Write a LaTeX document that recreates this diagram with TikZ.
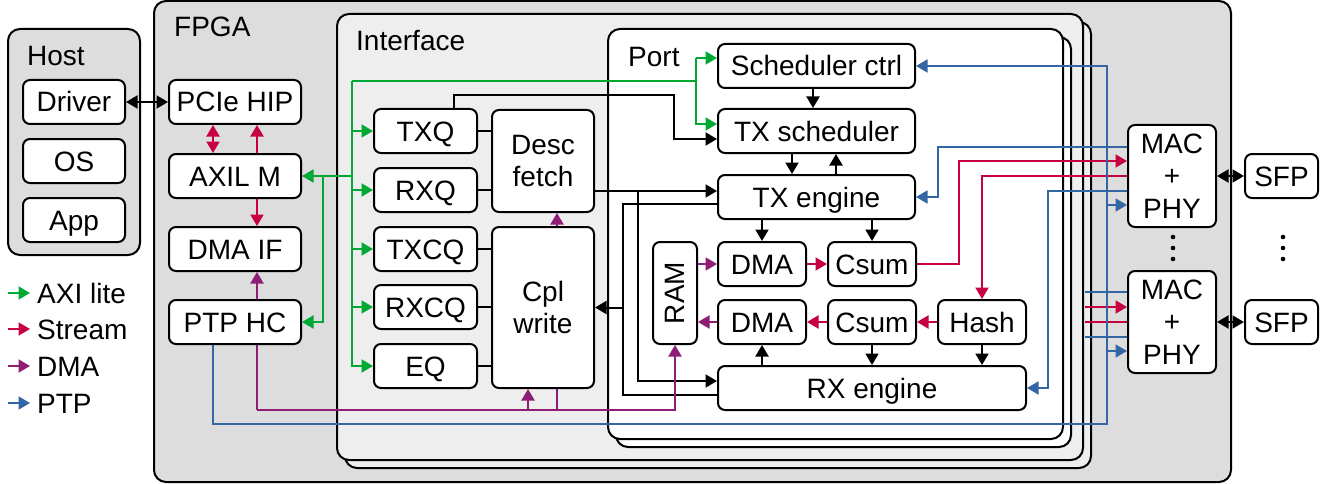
\documentclass[tikz,border=0pt]{standalone}
\usepackage{fontspec}
\setmainfont{Liberation Sans}
\usetikzlibrary{arrows.meta}
\definecolor{axigreen}{HTML}{00A933}
\definecolor{streamred}{HTML}{C70042}
\definecolor{dmapurple}{HTML}{8D1D75}
\definecolor{ptpblue}{HTML}{3465A4}
\definecolor{outergray}{HTML}{DDDDDD}
\definecolor{innergray}{HTML}{EEEEEE}
\pgfdeclarelayer{frames}
\pgfdeclarelayer{wires}
\pgfsetlayers{frames,wires,main}
\tikzset{
  blk/.style={draw, line width=2pt, rounded corners=7pt, fill=white, inner sep=0pt,
    minimum height=44pt, text height=20pt, text depth=0pt},
  mblk/.style={draw, line width=2pt, rounded corners=7pt, fill=white, inner sep=0pt, align=center},
  container/.style={draw, line width=2pt, rounded corners=12pt},
  lbl/.style={anchor=west, inner sep=0pt, text height=20pt, text depth=0pt},
  wire/.style={line width=2pt},
  arr/.style={-{Triangle[length=11.5pt,width=13pt]}},
  dbl/.style={{Triangle[length=11.5pt,width=13pt]}-{Triangle[length=11.5pt,width=13pt]}},
  axi/.style={wire, draw=axigreen},
  stream/.style={wire, draw=streamred},
  dma/.style={wire, draw=dmapurple},
  ptp/.style={line width=1.8pt, draw=ptpblue},
}
\begin{document}
\begin{tikzpicture}[x=1pt, y=-1pt, font=\fontsize{28}{32.5}\selectfont]
\useasboundingbox (0,0) rectangle (1332,484);

% enclosing regions
\begin{pgfonlayer}{frames}
\draw[container, fill=outergray] (8,29) rectangle (140,255);
\draw[container, fill=outergray] (154,1) rectangle (1231,482);
\draw[container, fill=innergray] (345,22) rectangle (1091,468);
\draw[container, fill=innergray] (337,14) rectangle (1083,460);
\draw[container, fill=white] (616,37) rectangle (1071,447);
\draw[container, fill=white] (608,29) rectangle (1063,439);
\end{pgfonlayer}

\node[lbl] (hostlbl) at (27,56) {Host};
\node[lbl] (fpgalbl) at (174,27) {FPGA};
\node[lbl] (iflbl) at (356,41) {Interface};
\node[lbl] (portlbl) at (628,56.5) {Port};

% host side
\node[blk, minimum width=102pt] (driver) at (74,102) {Driver};
\node[blk, minimum width=102pt] (os) at (74,161) {OS};
\node[blk, minimum width=102pt] (app) at (74,220) {App};

% FPGA top level
\node[blk, minimum width=132pt] (pcie) at (235,102) {PCIe HIP};
\node[blk, minimum width=132pt] (axil) at (235,176) {AXIL M};
\node[blk, minimum width=132pt] (dmaif) at (235,249) {DMA IF};
\node[blk, minimum width=132pt] (ptphc) at (235,322) {PTP HC};

% interface queues
\node[blk, minimum width=103pt] (txq) at (425.5,131) {TXQ};
\node[blk, minimum width=103pt] (rxq) at (425.5,190) {RXQ};
\node[blk, minimum width=103pt] (txcq) at (425.5,249) {TXCQ};
\node[blk, minimum width=103pt] (rxcq) at (425.5,307) {RXCQ};
\node[blk, minimum width=103pt] (eq) at (425.5,366) {EQ};
\node[mblk, minimum width=102pt, minimum height=102pt] (desc) at (543,161) {Desc\\fetch};
\node[mblk, minimum width=102pt, minimum height=161pt] (cpl) at (543,307.5) {Cpl\\write};

% port
\node[blk, minimum width=197pt] (schedctrl) at (816.5,66) {Scheduler ctrl};
\node[blk, minimum width=197pt] (txsched) at (816.5,131) {TX scheduler};
\node[blk, minimum width=197pt] (txeng) at (816.5,197) {TX engine};
\node[mblk, minimum width=44pt, minimum height=102pt] (ram) at (675,293) {\rotatebox{90}{RAM}};
\node[blk, minimum width=88pt] (dmatx) at (762,264) {DMA};
\node[blk, minimum width=88pt] (csumtx) at (872,264) {Csum};
\node[blk, minimum width=88pt] (dmarx) at (762,322) {DMA};
\node[blk, minimum width=88pt] (csumrx) at (872,322) {Csum};
\node[blk, minimum width=88pt] (hash) at (982,322) {Hash};
\node[blk, minimum width=308pt] (rxeng) at (872,388) {RX engine};

% MAC / PHY and optics
\node[mblk, minimum width=88pt, minimum height=102pt] (mac1) at (1172,176) {MAC\\+\\PHY};
\node[mblk, minimum width=88pt, minimum height=102pt] (mac2) at (1172,322) {MAC\\+\\PHY};
\node[blk, minimum width=73pt] (sfp1) at (1281.5,176) {SFP};
\node[blk, minimum width=73pt] (sfp2) at (1281.5,322) {SFP};

% continuation dots
\foreach \yy in {237,248,259} {
  \fill (1173,\yy) circle[radius=2.3pt];
  \fill (1283,\yy) circle[radius=2.3pt];
}

% legend
\coordinate (la0) at (8,293);  \coordinate (la1) at (30,293);
\coordinate (lb0) at (8,329);  \coordinate (lb1) at (30,329);
\coordinate (lc0) at (8,366);  \coordinate (lc1) at (30,366);
\coordinate (ld0) at (8,403);  \coordinate (ld1) at (30,403);
\node[lbl] (lega) at (37,293) {AXI lite};
\node[lbl] (legb) at (37,329) {Stream};
\node[lbl] (legc) at (37,366) {DMA};
\node[lbl] (legd) at (37,403) {PTP};

% junction points
\coordinate (j1) at (638,191);  \coordinate (j1b) at (638,381);
\coordinate (k1) at (623,204);  \coordinate (k2) at (623,395);  \coordinate (k3) at (623,307.5);
\coordinate (t1) at (674,95);
\coordinate (r1) at (959,161);
\coordinate (m2a) at (1085,307); \coordinate (m2b) at (1085,322);
\coordinate (p0) at (257,410);  \coordinate (p2) at (528,410);  \coordinate (p3) at (557,410);
\coordinate (b0) at (213,424);  \coordinate (b1) at (1107,424);
\coordinate (b2) at (1107,205); \coordinate (b3) at (1107,351);
\coordinate (b4) at (938,147);  \coordinate (b5) at (1048,191);
\coordinate (b6) at (1085,292); \coordinate (b7) at (1085,337);
\coordinate (g0) at (352,176);  \coordinate (g1) at (352,81);  \coordinate (g2) at (352,366);
\coordinate (g3) at (696,81);   \coordinate (g4) at (696,58);  \coordinate (g5) at (696,124);
\coordinate (g6) at (323,176);

\begin{pgfonlayer}{wires}
% legend arrows
\draw[axi, arr] (la0) -- (la1);
\draw[stream, arr] (lb0) -- (lb1);
\draw[dma, arr] (lc0) -- (lc1);
\draw[ptp, arr] (ld0) -- (ld1);

% control / data paths
\draw[wire, dbl] (driver.east) -- (pcie.west);
\draw[wire] (txq.east) -- (txq.east -| desc.west);
\draw[wire] (rxq.east) -- (rxq.east -| desc.west);
\draw[wire] (txcq.east) -- (txcq.east -| cpl.west);
\draw[wire] (rxcq.east) -- (rxcq.east -| cpl.west);
\draw[wire] (eq.east) -- (eq.east -| cpl.west);
\draw[wire, arr] ([xshift=28.5pt]txq.north) |- (t1) |- ([yshift=-8pt]txsched.west);
\draw[wire, arr] (desc.east |- j1) -- (txeng.west |- j1);
\draw[wire, arr] (j1) -- (j1b) -- (rxeng.west |- j1b);
\draw[wire] (txeng.west |- k1) -- (k1) -- (k2) -- (rxeng.west |- k2);
\draw[wire, arr] (k3) -- (cpl.east |- k3);
\draw[wire, arr] ([xshift=-3.5pt]schedctrl.south) -- ([xshift=-3.5pt]txsched.north);
\draw[wire, arr] ([xshift=-24.5pt]txsched.south) -- ([xshift=-24.5pt]txeng.north);
\draw[wire, arr] ([xshift=19.5pt]txeng.north) -- ([xshift=19.5pt]txsched.south);
\draw[wire, arr] (txeng.south -| dmatx.north) -- (dmatx.north);
\draw[wire, arr] (txeng.south -| csumtx.north) -- (csumtx.north);
\draw[wire, arr] (rxeng.north -| dmarx.south) -- (dmarx.south);
\draw[wire, arr] (csumrx.south) -- (rxeng.north -| csumrx.south);
\draw[wire, arr] (hash.south) -- (rxeng.north -| hash.south);
\draw[wire, dbl] (mac1.east) -- (sfp1.west);
\draw[wire, dbl] (mac2.east) -- (sfp2.west);

% streams
\draw[stream, dbl] ([xshift=-22pt]pcie.south) -- ([xshift=-22pt]axil.north);
\draw[stream, arr] ([xshift=22pt]axil.north) -- ([xshift=22pt]pcie.south);
\draw[stream, arr] ([xshift=22pt]axil.south) -- ([xshift=22pt]dmaif.north);
\draw[stream, arr] (dmatx.east) -- (csumtx.west);
\draw[stream, arr] (csumtx.east) -| (r1) -- (mac1.west |- r1);
\draw[stream, arr] (mac1.west) -| (hash.north);
\draw[stream, arr] (hash.west) -- (csumrx.east);
\draw[stream, arr] (csumrx.west) -- (dmarx.east);
\draw[stream, arr] (m2a) -- (mac2.west |- m2a);
\draw[stream] (m2b) -- (mac2.west |- m2b);

% DMA
\draw[dma, arr] (ram.east |- dmatx.west) -- (dmatx.west);
\draw[dma, arr] (dmarx.west) -- (ram.east |- dmarx.west);
\draw[dma, arr] (p0) -- ([xshift=22pt]dmaif.south);
\draw[dma, arr] (p0) -| (ram.south);
\draw[dma, arr] (p2) -- (p2 |- cpl.south);
\draw[dma, arr] (p3) -- (p3 |- desc.south);

% PTP
\draw[ptp, arr] ([xshift=-22pt]ptphc.south) -- (b0) -- (b1) |- (schedctrl.east);
\draw[ptp, arr] (b2) -- (mac1.west |- b2);
\draw[ptp, arr] (b3) -- (mac2.west |- b3);
\draw[ptp, arr] (mac1.west |- b4) -- (b4) |- (txeng.east);
\draw[ptp, arr] (mac1.west |- b5) -- (b5) |- (rxeng.east);
\draw[ptp] (b6) -- (mac2.west |- b6);
\draw[ptp] (b7) -- (mac2.west |- b7);

% AXI lite
\draw[axi, arr] (g0) -- (axil.east);
\draw[axi, arr] (g6) |- (ptphc.east);
\draw[axi, arr] (g1) -- (g2) -- (eq.west);
\draw[axi, arr] (txq.west -| g1) -- (txq.west);
\draw[axi, arr] (rxq.west -| g1) -- (rxq.west);
\draw[axi, arr] (txcq.west -| g1) -- (txcq.west);
\draw[axi, arr] (rxcq.west -| g1) -- (rxcq.west);
\draw[axi] (g1) -- (g3);
\draw[axi, arr] (g4) -- (schedctrl.west |- g4);
\draw[axi, arr] (g4) -- (g5) -- (txsched.west |- g5);
\end{pgfonlayer}
\end{tikzpicture}
\end{document}
